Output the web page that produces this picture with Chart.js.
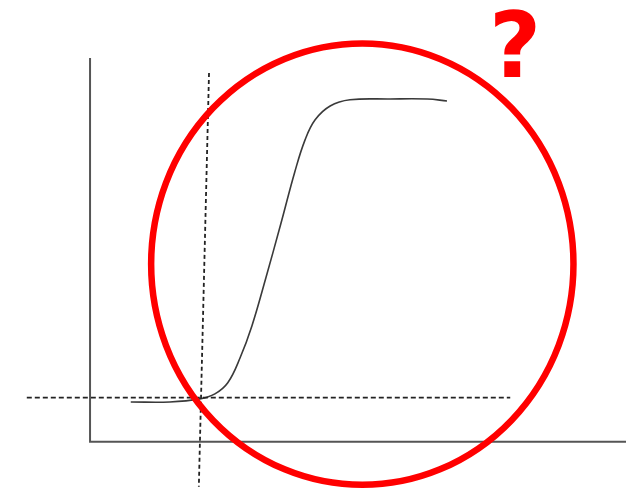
<!DOCTYPE html>
<html>
<head>
<meta charset="utf-8">
<script src="https://cdn.jsdelivr.net/npm/chart.js@4/dist/chart.umd.min.js"></script>
<style>
  html, body { margin: 0; padding: 0; background: #fff; }
  #wrap { width: 641px; height: 491px; position: relative; }
</style>
</head>
<body>
<div id="wrap"><canvas id="curveChart"></canvas></div>
<script>
// axes: corner at (0,0), both arms run to 100
const axisX = [0, 0, 100];
const axisY = [100, 0, 0];

// the sigmoid curve
const curveX = [7.6, 14.9, 20.5, 23.3, 25.7, 28.0, 30.2, 32.8, 35.6, 38.2, 40.1, 42.0, 44.8, 48.5, 56.0, 62.9, 66.6];
const curveY = [10.4, 10.4, 11.2, 12.5, 15.4, 21.9, 30.2, 42.7, 56.8, 70.3, 78.6, 83.9, 87.5, 89.1, 89.3, 89.3, 88.8];

// dashed guide lines
const vGuideX = [22.2, 20.3];
const vGuideY = [96.1, -11.7];
const hGuideX = [-11.8, 78.4];
const hGuideY = [11.5, 11.5];

// red highlight ring and mark
const ringCenter = [50.8, 46.3];
const ringRadius = [39.4, 57.5];
const markPos = [79.3, 95.1];
const markText = "?";

function toPoints(xs, ys) {
    return xs.map((x, i) => ({ x: x, y: ys[i] }));
}

const ringPlugin = {
    id: "ring",
    afterDatasetsDraw(chart) {
        const ctx = chart.ctx;
        const sx = chart.scales.x;
        const sy = chart.scales.y;
        const cx = sx.getPixelForValue(ringCenter[0]);
        const cy = sy.getPixelForValue(ringCenter[1]);
        const rx = Math.abs(sx.getPixelForValue(ringCenter[0] + ringRadius[0]) - cx);
        const ry = Math.abs(sy.getPixelForValue(ringCenter[1] + ringRadius[1]) - cy);
        ctx.save();
        ctx.beginPath();
        ctx.ellipse(cx, cy, rx, ry, 0, 0, Math.PI * 2);
        ctx.strokeStyle = "#ff0000";
        ctx.lineWidth = 6.5;
        ctx.stroke();

        ctx.fillStyle = "#ff0000";
        ctx.font = "bold 90px 'DejaVu Sans'";
        ctx.textAlign = "center";
        ctx.textBaseline = "alphabetic";
        ctx.fillText(markText, sx.getPixelForValue(markPos[0]), sy.getPixelForValue(markPos[1]));
        ctx.restore();
    },
};

const ctx = document.getElementById("curveChart").getContext("2d");
new Chart(ctx, {
    type: "scatter",
    data: {
        datasets: [
            {
                label: "axes",
                data: toPoints(axisX, axisY),
                showLine: true,
                borderColor: "#555",
                borderWidth: 2,
                pointRadius: 0,
                tension: 0,
            },
            {
                label: "vertical guide",
                data: toPoints(vGuideX, vGuideY),
                showLine: true,
                borderColor: "#222",
                borderWidth: 1.8,
                borderDash: [4, 3],
                pointRadius: 0,
            },
            {
                label: "horizontal guide",
                data: toPoints(hGuideX, hGuideY),
                showLine: true,
                borderColor: "#222",
                borderWidth: 1.8,
                borderDash: [5, 3],
                pointRadius: 0,
            },
            {
                label: "curve",
                data: toPoints(curveX, curveY),
                showLine: true,
                borderColor: "#3a3a3a",
                borderWidth: 1.6,
                pointRadius: 0,
                tension: 0.4,
            },
        ],
    },
    options: {
        responsive: true,
        maintainAspectRatio: false,
        animation: false,
        layout: { padding: 0 },
        plugins: {
            legend: { display: false },
            tooltip: { enabled: false },
        },
        scales: {
            x: { type: "linear", display: false, min: -16.8, max: 102.8 },
            y: { type: "linear", display: false, min: -12.8, max: 115.1 },
        },
    },
    plugins: [ringPlugin],
});
</script>
</body>
</html>
